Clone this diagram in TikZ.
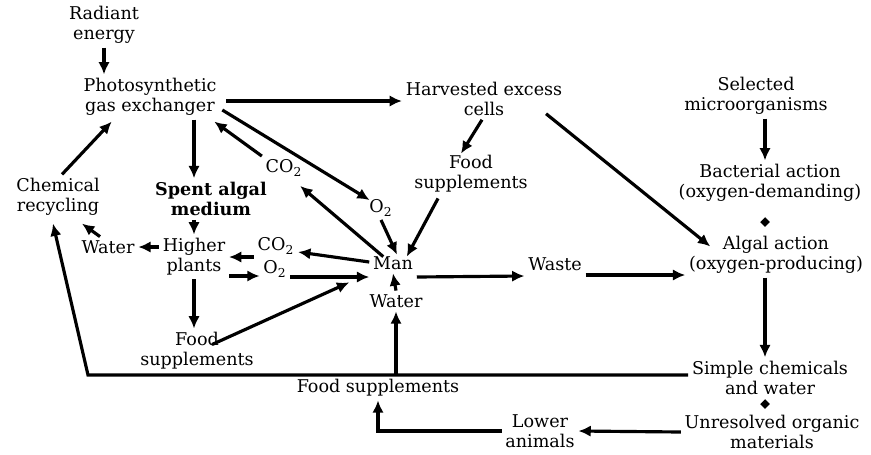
\documentclass[tikz,border=0pt]{standalone}
\usepackage{fontspec}
\setmainfont{DejaVu Serif}
\usepackage{tikz}
\usetikzlibrary{arrows.meta,calc,shapes.geometric}

\begin{document}
\begin{tikzpicture}[
  x=0.02cm, y=-0.02cm,
  font=\fontsize{10}{11.5}\selectfont,
  lbl/.style={align=center, inner sep=2pt},
  arr/.style={-{Latex[length=7pt,width=6.5pt]}, line width=1.8pt},
  dotmark/.style={diamond, fill, inner sep=1.4pt}
]
\useasboundingbox (0,0) rectangle (871,454);

% Left column
\node[lbl] (radiant) at (104,25) {Radiant\\energy};
\node[lbl] (photo) at (150,97) {Photosynthetic\\gas exchanger};
\node[lbl] (chem) at (58,197) {Chemical\\recycling};
\node[lbl, font=\fontsize{10}{11.5}\selectfont\bfseries] (spent) at (211,199) {Spent algal\\medium};
\node[lbl] (higher) at (194,257) {Higher\\plants};
\node[lbl] (water1) at (108,247) {Water};
\node[lbl] (food2) at (197,351) {Food\\supplements};

% Middle
\node[lbl] (co2a) at (284,168) {CO\textsubscript{2}};
\node[lbl] (o2a) at (381,208) {O\textsubscript{2}};
\node[lbl] (co2b) at (276,246) {CO\textsubscript{2}};
\node[lbl] (o2b) at (275,269) {O\textsubscript{2}};
\node[lbl] (man) at (393,263) {Man};
\node[lbl] (water2) at (396,301) {Water};
\node[lbl] (harvested) at (484,99) {Harvested excess\\cells};
\node[lbl] (food1) at (471,174) {Food\\supplements};
\node[lbl] (waste) at (555,264) {Waste};
\node[lbl] (food3) at (378,388) {Food supplements};
\node[lbl] (lower) at (540,431) {Lower\\animals};

% Right column
\node[lbl] (selected) at (756,96) {Selected\\microorganisms};
\node[lbl] (bacterial) at (770,183) {Bacterial action\\(oxygen-demanding)};
\node[dotmark] (dot1) at (765,222) {};
\node[lbl] (algal) at (776,255) {Algal action\\(oxygen-producing)};
\node[lbl] (simple) at (770,378) {Simple chemicals\\and water};
\node[dotmark] (dot2) at (765,404) {};
\node[lbl] (unresolved) at (772,432) {Unresolved organic\\materials};

\coordinate (corner) at (88,375);

% Left connectors
\draw[arr] (radiant.south) -- (radiant.south |- photo.north);
\draw[arr] ($(chem.north)+(4,0)$) -- ($(photo.south west)+(32,2)$);
\draw[arr] (higher |- photo.south) -- (higher |- spent.north);
\draw[arr] (higher |- spent.south) -- (higher.north);
\draw[arr] (water1.east -| higher.west) -- (water1.east);
\draw[arr] ($(water1.north)+(-8,0)$) -- ($(chem.south)+(24,4)$);
\draw[arr] (higher.south) -- (higher.south |- food2.north);
\draw[arr] (co2b.west |- higher.east) -- (higher.east);
\draw[arr] ($(higher.east)+(0,19)$) -- ($(o2b.west)+(0,7)$);

% Connectors round Man
\draw[arr] ($(man.west)+(0,-1)$) -- ($(co2b.east)+(0,6)$);
\draw[arr] ($(o2b.east)+(0,8)$) -- ($(man.west)+(0,14)$);
\draw[arr] ($(food2.north)+(15,16)$) -- ($(man.south west)+(-20,9)$);
\draw[arr] ($(photo.east)+(6,4)$) -- ($(harvested.west)+(0,2)$);
\draw[arr] ($(photo.east)+(2,13)$) -- ($(o2a.north west)+(4,4)$);
\draw[arr] (co2a.north west) -- ($(photo.south east)+(-6,2)$);
\draw[arr] ($(man.north west)+(14,4)$) -- ($(co2a.south east)+(-6,6)$);
\draw[arr] (o2a.south) -- ($(man.north)+(4,2)$);
\draw[arr] ($(harvested.south)+(-2,0)$) -- ($(food1.north)+(-10,2)$);
\draw[arr] ($(food1.south)+(-33,2)$) -- ($(man.north east)+(-10,4)$);
\draw[arr] (water2.north) -- (man.south);
\draw[arr] ($(man.east)+(0,14)$) -- ($(waste.west)+(0,12)$);

% Right connectors
\draw[arr] ($(harvested.south east)+(-20,-6)$) -- ($(algal.north west)+(25,14)$);
\draw[arr] ($(waste.east)+(0,11)$) -- ($(algal.west)+(0,20)$);
\draw[arr] (dot1 |- selected.south) -- (dot1 |- bacterial.north);
\draw[arr] (dot1 |- algal.south) -- (dot1 |- simple.north);
\draw[arr] (unresolved.west) -- (lower.east);
\draw[arr] (lower.west) -| (food3.south);

% Return line
\draw[arr] (simple.west |- corner) -- (corner) -- ($(chem.south)+(-5,4)$);
\draw[arr] (water2.south |- corner) -- (water2.south);

\end{tikzpicture}
\end{document}
